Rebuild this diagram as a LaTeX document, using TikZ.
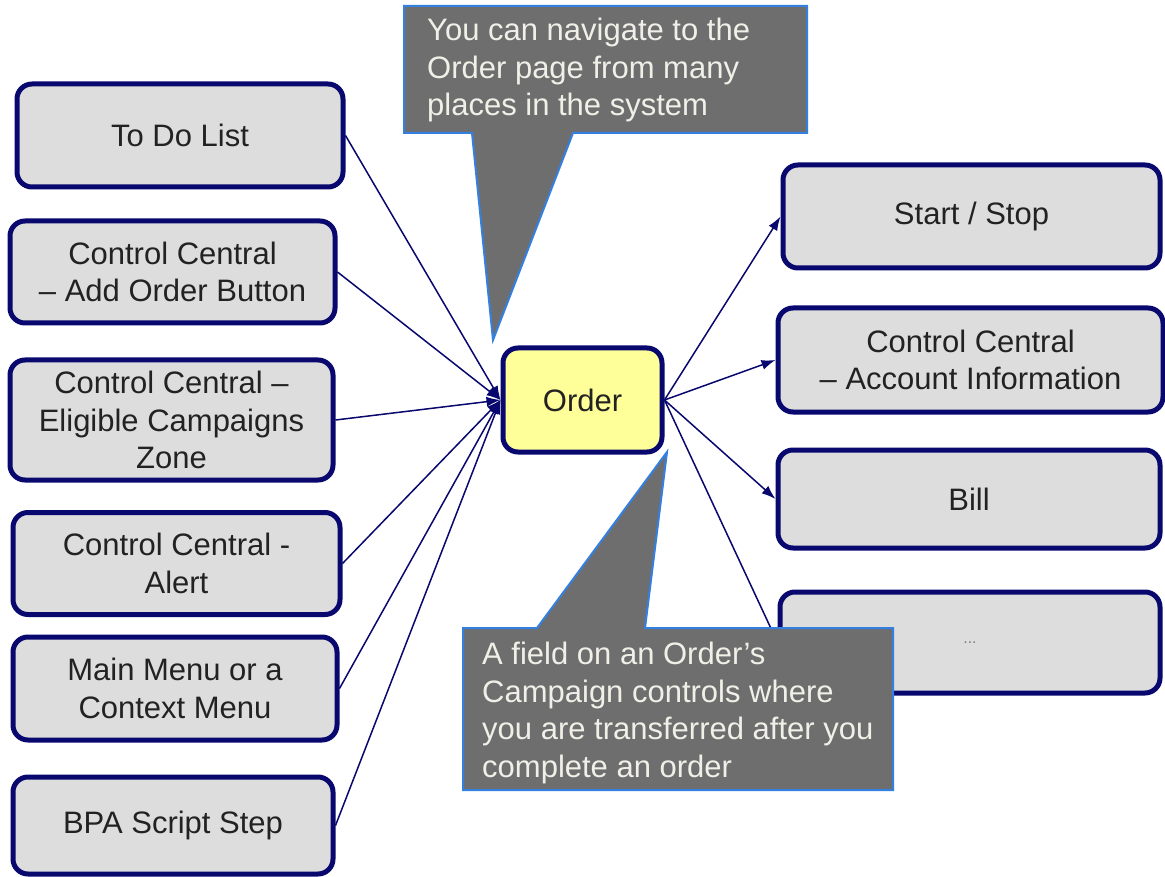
\documentclass[tikz,border=0pt]{standalone}
\usepackage{fontspec}
\setmainfont{Liberation Sans}
\usetikzlibrary{arrows.meta}
\definecolor{navy}{RGB}{8,8,110}
\definecolor{boxgray}{RGB}{221,221,221}
\definecolor{orderyellow}{RGB}{255,255,153}
\definecolor{calloutgray}{RGB}{110,110,110}
\definecolor{calloutblue}{RGB}{52,128,225}
\definecolor{calloutText}{RGB}{240,240,232}
\definecolor{textdark}{RGB}{34,34,34}
\begin{document}
\begin{tikzpicture}[x=1pt,y=-1pt,
  boxfont/.style={font=\fontsize{31}{37.5}\selectfont},
  box/.style={boxfont, draw=navy, line width=5pt, fill=boxgray, rounded corners=15pt,
    align=center, text=textdark, inner sep=2pt},
  orderbox/.style={box, fill=orderyellow},
  link/.style={draw=navy, line width=1.5pt, -{Latex[length=14pt,width=10pt]}},
  callout/.style={fill=calloutgray, draw=calloutblue, line width=2pt, line join=miter},
  callouttext/.style={boxfont, text=calloutText, align=left, inner sep=0pt, anchor=north west}
]
\useasboundingbox (0,0) rectangle (1165,877);
\fill[white] (0,0) rectangle (1165,877);

% left boxes
\node[box, minimum width=326pt, minimum height=103pt] (todo) at (180,135.5) {To Do List};
\node[box, minimum width=325pt, minimum height=102pt] (addorder) at (172.5,272) {Control Central\\– Add Order Button};
\node[box, minimum width=323pt, minimum height=120pt] (eligible) at (171.5,420) {Control Central –\\Eligible Campaigns\\Zone};
\node[box, minimum width=327pt, minimum height=102pt] (alert) at (176.5,563.5) {Control Central -\\Alert};
\node[box, minimum width=324pt, minimum height=103pt] (mainmenu) at (175,688.5) {Main Menu or a\\Context Menu};
\node[box, minimum width=320pt, minimum height=97pt] (bpa) at (173,825.5) {BPA Script Step};

% right boxes
\node[box, minimum width=377pt, minimum height=103pt] (startstop) at (971.5,216.5) {Start / Stop};
\node[box, minimum width=385pt, minimum height=104pt] (account) at (970.5,360) {Control Central\\– Account Information};
\node[box, minimum width=382pt, minimum height=98pt] (bill) at (969,499) {Bill};
\node[box, minimum width=380pt, minimum height=101pt] (dots) at (970,642.5) {\fontsize{16}{18}\selectfont\color{gray}...};

% centre
\node[orderbox, minimum width=159pt, minimum height=104pt] (order) at (582.5,400) {Order};

% connectors
\draw[link] (todo.east) -- (order.west);
\draw[link] (addorder.east) -- (order.west);
\draw[link] (eligible.east) -- (order.west);
\draw[link] (alert.east) -- (order.west);
\draw[link] (mainmenu.east) -- (order.west);
\draw[link] (bpa.east) -- (order.west);
\draw[link] (order.east) -- (startstop.west);
\draw[link] (order.east) -- (account.west);
\draw[link] (order.east) -- (bill.west);
\draw[link] (order.east) -- (dots.west);

% callouts
\path[callout] (404,6) -- (807,6) -- (807,133) -- (573,133) -- (493,340) -- (472,133) -- (404,133) -- cycle;
\node[callouttext] (note1) at (427,18) {You can navigate to the\\Order page from many\\places in the system};

\path[callout] (463,628) -- (537,628) -- (667,452) -- (645,628) -- (893,628) -- (893,790) -- (463,790) -- cycle;
\node[callouttext] (note2) at (482,642) {A field on an Order's\\Campaign controls where\\you are transferred after you\\complete an order};
\end{tikzpicture}
\end{document}
